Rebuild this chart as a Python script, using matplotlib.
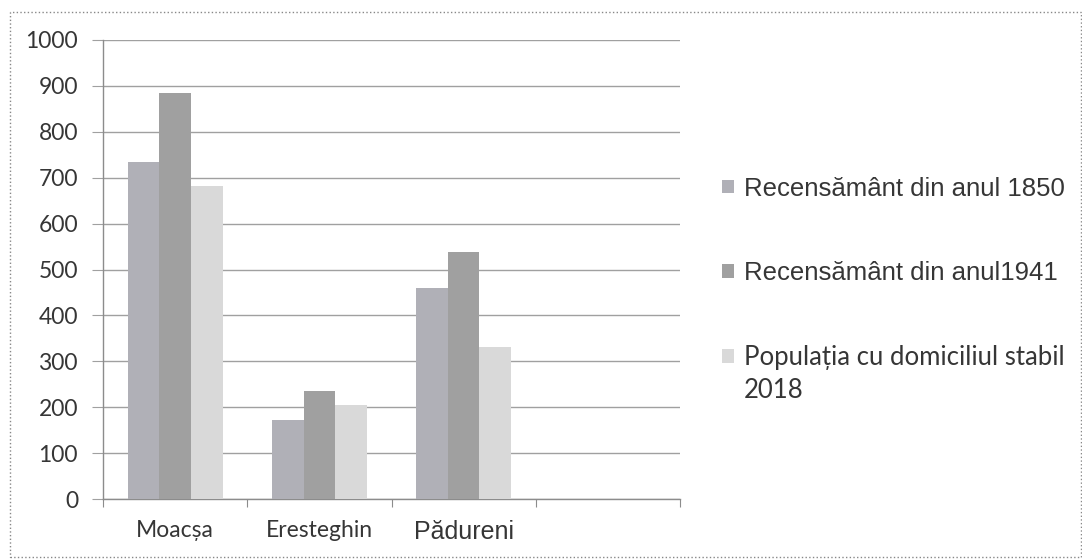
import numpy as np
import matplotlib
matplotlib.use("Agg")
import matplotlib.pyplot as plt
from matplotlib.patches import Rectangle, Patch
from matplotlib.legend_handler import HandlerPatch

# date din grafic
sate = ["Moacșa", "Eresteghin", "Pădureni"]
recensamant_1850 = [734, 172, 460]
recensamant_1941 = [884, 235, 538]
populatia_2018 = [681, 205, 331]
etichete = ["Recensământ din anul 1850", "Recensământ din anul1941",
            "Populația cu domiciliul stabil\n2018"]

culori = ["#b0b0b7", "#a0a0a0", "#d9d9d9"]
text_col = "#363636"
grid_col = "#a0a0a0"

W, H = 1082, 559
fig = plt.figure(figsize=(W / 100, H / 100), dpi=100)
ax = fig.add_axes([103 / W, 1 - 499 / H, (680 - 103) / W, (499 - 40) / H])

x = np.arange(len(sate))
w = 0.22
for i, vals in enumerate([recensamant_1850, recensamant_1941, populatia_2018]):
    ax.bar(x + (i - 1) * w, vals, w, color=culori[i], linewidth=0, zorder=3)

ax.set_xlim(-0.5, 3.5)
ax.set_ylim(0, 1000)
ax.set_yticks(np.arange(0, 1001, 100))
ax.yaxis.grid(True, color=grid_col, lw=1)
ax.set_axisbelow(True)

for s in ["top", "right"]:
    ax.spines[s].set_visible(False)
for s in ["left", "bottom"]:
    ax.spines[s].set_color("#8c8c8c")
    ax.spines[s].set_linewidth(1)

# tick-uri intre categorii, etichetele in centru
ax.set_xticks(np.arange(-0.5, 3.6, 1.0))
ax.set_xticklabels([])
ax.set_xticks(x, minor=True)
ax.set_xticklabels(sate, minor=True)
ax.tick_params(axis="x", which="major", length=6, color="#8c8c8c", direction="out")
ax.tick_params(axis="x", which="minor", length=0, pad=15, labelsize=16.5, labelcolor=text_col)
ax.tick_params(axis="y", length=8, color=grid_col, pad=10, labelsize=16.5, labelcolor=text_col)

for t in ax.get_yticklabels():
    t.set_fontfamily("Lato")
for t in ax.get_xticklabels(minor=True):
    if t.get_text() == "Pădureni":
        t.set_fontfamily("Liberation Sans")
        t.set_fontsize(18)
    else:
        t.set_fontfamily("Lato")


# markerul pentru intrarea pe doua randuri sta langa primul rand
def patratel_sus(legend, orig_handle, xdescent, ydescent, width, height, fontsize):
    return Rectangle((-xdescent, -ydescent + 14), width, height)


handles = [Patch(facecolor=c, edgecolor="none") for c in culori]
leg = ax.legend(handles, etichete, loc="center left",
                bbox_to_anchor=(722 / W, 1 - 290 / H), bbox_transform=fig.transFigure,
                frameon=False, borderpad=0, borderaxespad=0,
                handlelength=0.45, handleheight=0.45, handletextpad=0.4,
                labelspacing=2.35, prop={"family": "Liberation Sans", "size": 18.5},
                handler_map={handles[2]: HandlerPatch(patch_func=patratel_sus)})
for i, t in enumerate(leg.get_texts()):
    t.set_color(text_col)
    if i == 2:
        t.set_fontfamily("Lato")
        t.set_fontsize(18.5)
        t.set_linespacing(1.4)

# chenarul punctat al graficului
fig.add_artist(Rectangle((10 / W, 2 / H), (W - 11) / W, (H - 14) / H,
                         transform=fig.transFigure, fill=False, ls=":", ec="#888888", lw=1))

fig.savefig("out.png", dpi=100, facecolor="white")
